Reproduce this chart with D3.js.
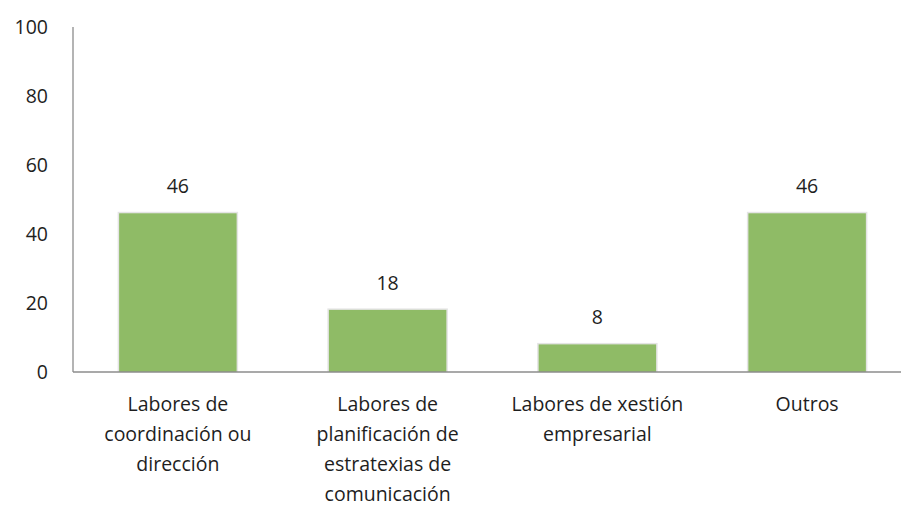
<!DOCTYPE html>
<html>
<head>
<meta charset="utf-8">
<script src="https://cdn.jsdelivr.net/npm/d3@7"></script>
<style>
  body { margin: 0; background: #fff; }
  svg text { font-family: "Open Sans", "DejaVu Sans", sans-serif; fill: #1e1e1e; }
</style>
</head>
<body>
<div id="chart"></div>
<script>
const categories = [
    ["Labores de", "coordinación ou", "dirección"],
    ["Labores de", "planificación de", "estratexias de", "comunicación"],
    ["Labores de xestión", "empresarial"],
    ["Outros"]
];
const values = [46, 18, 8, 46];
const yTicks = [0, 20, 40, 60, 80, 100];

const width = 901;
const height = 509;
const margin = {top: 27, right: -11, bottom: 137, left: 73};
const fontSize = "19.5px";

const svg = d3.select("#chart")
    .append("svg")
    .attr("width", width)
    .attr("height", height);

const x = d3.scaleBand()
    .domain(d3.range(values.length))
    .range([margin.left, width - margin.right])
    .paddingInner(0.44)
    .paddingOuter(0.22);

const y = d3.scaleLinear()
    .domain([0, 100])
    .range([height - margin.bottom, margin.top]);

// eixe Y (sen marcas)
svg.append("line")
    .attr("x1", margin.left).attr("x2", margin.left)
    .attr("y1", y(100)).attr("y2", y(0))
    .attr("stroke", "#8c8c8c").attr("stroke-width", 1.3);

svg.selectAll(".ylab")
    .data(yTicks)
    .enter().append("text")
    .attr("class", "ylab")
    .attr("x", 48)
    .attr("y", d => y(d))
    .attr("dy", "0.35em")
    .attr("text-anchor", "end")
    .style("font-size", fontSize)
    .text(d => d);

// barras con sombra suave
const bars = svg.selectAll(".bar")
    .data(values)
    .enter().append("g")
    .attr("class", "bar");

bars.append("rect")
    .attr("x", (d, i) => x(i) - 1.5)
    .attr("y", d => y(d) - 1.5)
    .attr("width", x.bandwidth() + 3)
    .attr("height", d => y(0) - y(d) + 1.5)
    .attr("fill", "#e4e4e4");

bars.append("rect")
    .attr("x", (d, i) => x(i))
    .attr("y", d => y(d))
    .attr("width", x.bandwidth())
    .attr("height", d => y(0) - y(d))
    .attr("fill", "#8fbb66");

bars.append("text")
    .attr("x", (d, i) => x(i) + x.bandwidth() / 2)
    .attr("y", d => y(d) - 27)
    .attr("dy", "0.35em")
    .attr("text-anchor", "middle")
    .style("font-size", fontSize)
    .text(d => d);

// eixe X
svg.append("line")
    .attr("x1", margin.left).attr("x2", width)
    .attr("y1", y(0)).attr("y2", y(0))
    .attr("stroke", "#8c8c8c").attr("stroke-width", 1.3);

const xl = svg.selectAll(".xlab")
    .data(categories)
    .enter().append("text")
    .attr("class", "xlab")
    .attr("text-anchor", "middle")
    .style("font-size", fontSize);

xl.selectAll("tspan")
    .data((d, i) => d.map(t => ({t: t, i: i})))
    .enter().append("tspan")
    .attr("x", d => x(d.i) + x.bandwidth() / 2)
    .attr("y", (d, j) => y(0) + 39 + j * 30)
    .text(d => d.t);
</script>
</body>
</html>
